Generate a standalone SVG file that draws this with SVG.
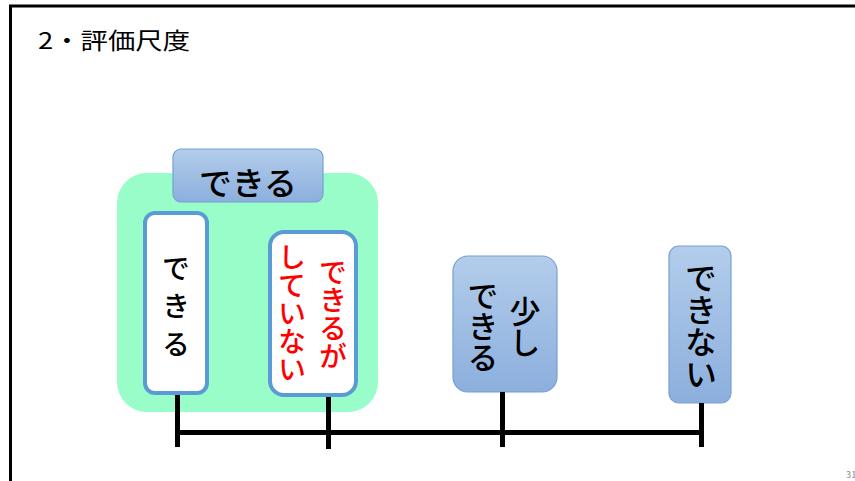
<svg xmlns="http://www.w3.org/2000/svg" width="855" height="481" viewBox="0 0 855 481">
<defs>
<linearGradient id="blue" x1="0" y1="0" x2="0" y2="1">
<stop offset="0" stop-color="#b3cdeb"/>
<stop offset="1" stop-color="#8cafdd"/>
</linearGradient>
<style>
text{font-family:"Noto Sans CJK JP","Liberation Sans",sans-serif;font-weight:500;}
.vt{writing-mode:vertical-rl;text-anchor:middle;}
.blue{fill:url(#blue);stroke:#76a0d4;stroke-width:1.2;}
.white{fill:#ffffff;stroke:#5b9bd5;stroke-width:4;}
.conn{stroke:#000;stroke-width:5;fill:none;}
</style>
</defs>
<rect width="855" height="481" fill="#ffffff"/>
<g id="frame">
<line x1="9" y1="6" x2="855" y2="6" stroke="#000" stroke-width="3"/>
<line x1="10.5" y1="5" x2="10.5" y2="481" stroke="#000" stroke-width="3"/>
</g>
<text id="title" x="38" y="49" font-size="23" font-weight="400" style="font-weight:400" textLength="152" lengthAdjust="spacingAndGlyphs" fill="#000">2・評価尺度</text>
<g id="group-dekiru">
<rect x="117" y="173" width="261" height="239" rx="30" fill="#99fdc9"/>
</g>
<g id="header">
<rect class="blue" x="173" y="149" width="150" height="53" rx="8"/>
<text x="248" y="181" font-size="32" text-anchor="middle" dominant-baseline="central" textLength="98" lengthAdjust="spacingAndGlyphs">できる</text>
</g>
<g id="node-dekiru">
<rect class="white" x="145" y="213" width="62" height="180" rx="10"/>
<text class="vt" x="176" y="311" font-size="28" letter-spacing="10">できる</text>
</g>
<g id="node-dekiruga">
<rect class="white" x="270" y="232" width="86" height="163" rx="14"/>
<text class="vt" x="333" y="314" font-size="28" fill="#ff0000">できるが</text>
<text class="vt" x="292" y="313" font-size="28" fill="#ff0000">していない</text>
</g>
<g id="node-sukoshi">
<rect class="blue" x="453" y="256" width="104" height="136" rx="15"/>
<text class="vt" x="525" y="327" font-size="31">少し</text>
<text class="vt" x="483" y="326" font-size="31">できる</text>
</g>
<g id="node-dekinai">
<rect class="blue" x="669" y="246" width="62" height="157" rx="10"/>
<text class="vt" x="701" y="326" font-size="32">できない</text>
</g>
<g id="connectors">
<line class="conn" x1="177.5" y1="395" x2="177.5" y2="447"/>
<line class="conn" x1="328.5" y1="397" x2="328.5" y2="449"/>
<line class="conn" x1="502.5" y1="392" x2="502.5" y2="447"/>
<line class="conn" x1="701.5" y1="403" x2="701.5" y2="447"/>
<line class="conn" x1="177.5" y1="432.5" x2="701.5" y2="432.5"/>
</g>
<text id="page" x="846" y="478" font-size="9" fill="#999999" font-family="Liberation Sans, sans-serif">31</text>
</svg>
